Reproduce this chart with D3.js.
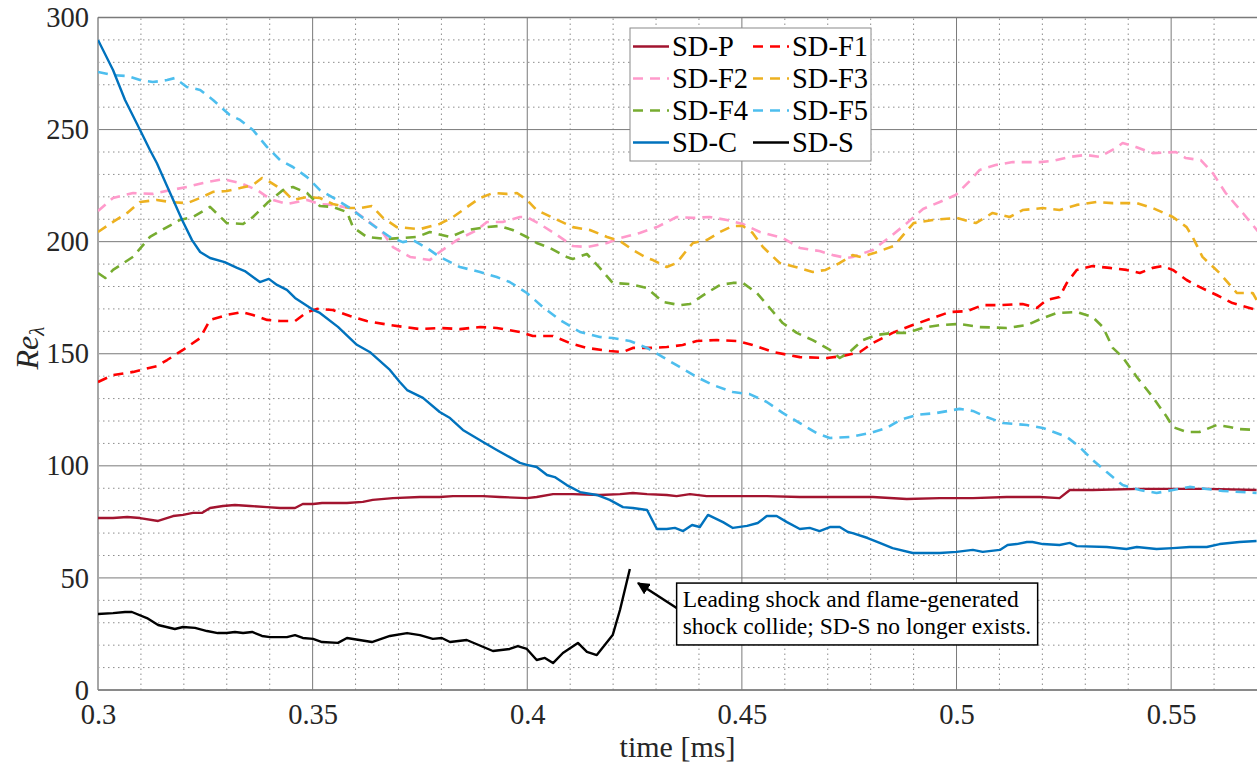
<!DOCTYPE html>
<html>
<head>
<meta charset="utf-8">
<script src="https://cdn.jsdelivr.net/npm/d3@7"></script>
<style>
  body { margin: 0; background: #fff; }
  svg text { font-family: "Liberation Serif", "DejaVu Serif", "Times New Roman", serif; }
</style>
</head>
<body>
<div id="chart-area"></div>
<script>
let width = 1257,
height = 765;

// Re_lambda over time
let sdP = [[0.300,76.7],[0.3035,76.7],[0.3068,77.2],[0.3098,76.7],[0.3140,75.4],[0.3175,77.6],[0.3198,78.1],[0.3221,79.0],[0.3242,79.0],[0.3261,81.2],[0.3291,82.1],[0.3319,82.5],[0.3354,82.1],[0.3394,81.6],[0.3424,81.2],[0.3459,81.2],[0.3477,83.0],[0.3501,83.0],[0.3522,83.4],[0.3580,83.4],[0.3617,83.9],[0.3640,84.8],[0.3687,85.6],[0.3750,86.1],[0.3796,86.1],[0.3827,86.5],[0.3897,86.5],[0.3936,86.1],[0.3999,85.6],[0.4022,86.1],[0.4060,87.4],[0.4106,87.4],[0.4169,87.0],[0.4216,87.4],[0.4246,87.9],[0.4279,87.4],[0.4325,87.0],[0.4348,86.5],[0.4379,87.4],[0.4418,86.5],[0.4479,86.5],[0.4558,86.5],[0.4635,86.1],[0.4751,86.1],[0.4805,86.1],[0.4884,85.2],[0.4961,85.6],[0.5038,85.6],[0.5117,86.1],[0.5194,86.1],[0.5240,85.6],[0.5264,89.2],[0.5317,89.2],[0.5427,89.7],[0.5504,89.7],[0.5583,89.7],[0.5699,89.2]];

let sdF1 = [[0.300,137.4],[0.3035,140.5],[0.3082,141.9],[0.3137,144.5],[0.3161,147.2],[0.3198,151.7],[0.3238,157.0],[0.3261,165.1],[0.3300,167.3],[0.3335,168.6],[0.3361,167.3],[0.3394,165.1],[0.3424,164.6],[0.3459,164.6],[0.3487,168.6],[0.3510,170.0],[0.3547,169.5],[0.3587,166.8],[0.3626,164.6],[0.3680,162.8],[0.3750,161.0],[0.3796,161.5],[0.3843,161.0],[0.3890,161.9],[0.3929,161.5],[0.3983,159.7],[0.4013,157.9],[0.4060,157.9],[0.4099,154.8],[0.4139,152.6],[0.4192,151.2],[0.4223,150.8],[0.4246,152.6],[0.4292,152.6],[0.4325,153.0],[0.4362,153.9],[0.4395,155.7],[0.4442,156.1],[0.4488,155.7],[0.4525,153.9],[0.4572,150.8],[0.4635,148.5],[0.4698,148.1],[0.4735,149.0],[0.4775,150.8],[0.4805,154.8],[0.4851,159.3],[0.4898,162.8],[0.4945,166.0],[0.4984,168.6],[0.5024,169.0],[0.5061,171.7],[0.5101,171.7],[0.5154,172.2],[0.5187,170.4],[0.5210,174.0],[0.5240,175.3],[0.5257,181.6],[0.5280,187.4],[0.5317,189.1],[0.5357,188.3],[0.5396,187.4],[0.5427,186.0],[0.5457,188.3],[0.5480,189.1],[0.5504,187.4],[0.5536,182.9],[0.5566,179.8],[0.5606,176.2],[0.5643,172.6],[0.5699,169.5]];

let sdF2 = [[0.300,213.7],[0.3035,219.5],[0.3082,221.7],[0.3128,221.3],[0.3168,223.0],[0.3208,224.4],[0.3245,226.2],[0.3291,227.9],[0.3331,226.2],[0.3371,223.0],[0.3401,219.0],[0.3440,216.8],[0.3487,218.6],[0.3517,216.8],[0.3547,216.4],[0.3587,215.0],[0.3626,209.7],[0.3664,203.9],[0.3687,197.6],[0.3727,193.2],[0.3773,191.8],[0.3796,195.4],[0.3836,200.7],[0.3883,205.2],[0.3906,208.8],[0.3943,208.8],[0.3983,211.0],[0.3999,211.0],[0.4029,207.9],[0.4069,203.0],[0.4106,198.1],[0.4139,197.6],[0.4186,199.4],[0.4216,201.6],[0.4262,203.9],[0.4302,206.5],[0.4348,211.0],[0.4386,210.6],[0.4425,211.0],[0.4465,209.7],[0.4502,207.9],[0.4542,204.3],[0.4595,201.6],[0.4635,197.2],[0.4681,195.8],[0.4712,194.0],[0.4744,192.7],[0.4758,193.2],[0.4805,196.3],[0.4845,202.1],[0.4882,207.9],[0.4922,214.6],[0.4961,217.7],[0.4998,220.8],[0.5033,227.5],[0.5054,232.0],[0.5091,234.2],[0.5131,235.5],[0.5194,235.5],[0.5224,236.0],[0.5264,237.8],[0.5301,238.7],[0.5334,237.8],[0.5371,241.8],[0.5387,244.0],[0.5418,242.2],[0.5457,239.5],[0.5511,240.0],[0.5534,237.3],[0.5569,236.4],[0.5597,230.6],[0.5627,221.7],[0.5667,212.8],[0.5713,202.1]];

let sdF3 = [[0.300,204.3],[0.3035,208.8],[0.3068,212.8],[0.3098,217.7],[0.3137,218.6],[0.3168,217.7],[0.3208,217.2],[0.3238,219.5],[0.3268,222.2],[0.3300,222.6],[0.3331,223.9],[0.3361,225.3],[0.3382,228.4],[0.3401,226.6],[0.3431,223.0],[0.3454,218.6],[0.3487,219.9],[0.3517,219.5],[0.3547,216.8],[0.3587,215.0],[0.3610,215.0],[0.3638,215.9],[0.3664,210.6],[0.3696,206.5],[0.3750,205.6],[0.3796,207.9],[0.3827,211.0],[0.3850,214.1],[0.3890,219.5],[0.3920,221.7],[0.3952,221.3],[0.3976,221.7],[0.3999,218.6],[0.4022,214.1],[0.4060,210.6],[0.4106,206.5],[0.4146,205.2],[0.4186,202.1],[0.4216,200.3],[0.4246,196.3],[0.4279,192.7],[0.4293,191.8],[0.4325,188.7],[0.4348,190.5],[0.4372,196.3],[0.4386,199.4],[0.4418,200.7],[0.4449,204.3],[0.4479,207.0],[0.4502,207.0],[0.4525,203.9],[0.4549,197.6],[0.4588,190.5],[0.4625,188.7],[0.4665,186.5],[0.4695,187.4],[0.4728,190.5],[0.4758,194.0],[0.4777,193.2],[0.4808,194.9],[0.4854,198.1],[0.4900,208.3],[0.4945,209.7],[0.5000,210.6],[0.5045,208.3],[0.5084,212.8],[0.5124,211.0],[0.5154,214.1],[0.5201,215.0],[0.5240,214.1],[0.5280,216.4],[0.5327,217.7],[0.5364,217.2],[0.5420,217.2],[0.5457,215.0],[0.5504,211.0],[0.5536,206.5],[0.5550,202.1],[0.5573,193.2],[0.5613,186.0],[0.5653,177.1],[0.5690,177.1],[0.5699,174.0]];

let sdF4 = [[0.300,186.0],[0.3017,183.8],[0.3035,187.4],[0.3082,193.3],[0.3121,202.1],[0.3161,206.5],[0.3191,209.7],[0.3221,211.0],[0.3261,215.5],[0.3300,208.3],[0.3338,207.9],[0.3361,211.0],[0.3394,217.2],[0.3431,223.0],[0.3454,224.4],[0.3487,221.7],[0.3517,215.9],[0.3547,215.5],[0.3580,213.2],[0.3594,206.5],[0.3626,202.1],[0.3673,201.2],[0.3703,201.6],[0.3743,202.1],[0.3773,204.3],[0.3820,202.1],[0.3859,205.2],[0.3906,206.5],[0.3936,207.0],[0.3966,205.2],[0.3999,202.1],[0.4022,199.4],[0.4053,197.2],[0.4092,193.2],[0.4106,192.3],[0.4139,194.5],[0.4169,188.3],[0.4199,181.6],[0.4239,181.1],[0.4279,179.3],[0.4316,173.1],[0.4355,171.7],[0.4379,172.2],[0.4418,177.1],[0.4449,180.7],[0.4479,181.6],[0.4502,181.6],[0.4535,177.1],[0.4565,170.4],[0.4595,163.7],[0.4628,159.3],[0.4665,156.1],[0.4705,151.7],[0.4728,148.1],[0.4751,150.8],[0.4782,156.1],[0.4814,158.4],[0.4851,159.3],[0.4884,159.3],[0.4921,161.5],[0.4961,162.8],[0.5008,163.3],[0.5054,161.9],[0.5117,161.5],[0.5164,162.8],[0.5201,165.9],[0.5234,168.2],[0.5280,168.6],[0.5317,166.4],[0.5341,161.9],[0.5364,152.6],[0.5387,148.5],[0.5420,139.6],[0.5457,130.7],[0.5490,121.8],[0.5504,117.3],[0.5536,115.1],[0.5566,115.1],[0.5606,118.2],[0.5636,117.3],[0.5659,116.4],[0.5699,116.0]];

let sdF5 = [[0.300,275.7],[0.3035,274.3],[0.3068,273.9],[0.3098,272.1],[0.3128,271.2],[0.3161,272.1],[0.3179,273.0],[0.3207,269.0],[0.3238,267.7],[0.3268,263.2],[0.3307,256.5],[0.3331,254.3],[0.3361,249.8],[0.3394,242.2],[0.3424,236.4],[0.3454,233.3],[0.3487,228.8],[0.3517,223.0],[0.3557,218.6],[0.3587,215.0],[0.3617,210.6],[0.3650,206.1],[0.3680,202.1],[0.3710,199.8],[0.3734,200.7],[0.3766,197.2],[0.3796,193.2],[0.3843,188.7],[0.3890,186.5],[0.3929,184.2],[0.3959,182.0],[0.3999,177.1],[0.4036,170.9],[0.4076,165.1],[0.4123,159.7],[0.4169,157.5],[0.4199,157.0],[0.4239,155.7],[0.4279,152.6],[0.4316,148.5],[0.4355,144.1],[0.4395,139.6],[0.4432,136.1],[0.4479,132.9],[0.4518,132.0],[0.4558,128.5],[0.4595,123.6],[0.4635,119.1],[0.4674,114.6],[0.4705,112.4],[0.4751,112.9],[0.4798,114.6],[0.4837,116.9],[0.4868,120.4],[0.4907,122.7],[0.4954,123.6],[0.5007,125.4],[0.5038,124.5],[0.5070,121.8],[0.5108,119.1],[0.5164,118.2],[0.5201,116.9],[0.5257,112.9],[0.5287,108.4],[0.5317,102.6],[0.5350,97.2],[0.5387,91.4],[0.5427,89.2],[0.5466,87.9],[0.5504,89.2],[0.5543,90.6],[0.5583,89.7],[0.5620,88.8],[0.5699,87.9]];

let sdC = [[0.300,290.0],[0.3035,276.6],[0.3063,263.2],[0.3098,249.8],[0.3121,240.9],[0.3137,235.1],[0.3168,221.7],[0.3196,209.7],[0.3219,200.7],[0.3238,195.4],[0.3261,192.7],[0.3295,190.9],[0.3324,188.3],[0.3342,186.9],[0.3377,182.0],[0.3398,183.4],[0.3417,180.7],[0.3440,178.5],[0.3459,174.9],[0.3501,169.6],[0.3517,168.2],[0.3559,162.0],[0.3603,154.0],[0.3633,150.8],[0.3680,142.8],[0.3703,137.4],[0.3720,133.8],[0.3757,130.3],[0.3796,124.0],[0.3820,121.3],[0.3850,116.0],[0.3897,110.6],[0.3929,107.1],[0.3959,103.9],[0.3983,101.3],[0.3999,100.4],[0.4022,99.5],[0.4046,95.9],[0.4064,95.0],[0.4092,91.4],[0.4123,88.3],[0.4162,87.0],[0.4192,84.8],[0.4223,81.6],[0.4246,81.2],[0.4279,80.3],[0.4302,71.8],[0.4325,71.8],[0.4344,72.3],[0.4363,70.9],[0.4384,73.6],[0.4402,72.7],[0.4421,78.1],[0.4456,74.9],[0.4479,72.3],[0.4512,73.2],[0.4537,74.5],[0.4558,77.6],[0.4581,77.6],[0.4605,74.9],[0.4635,71.8],[0.4658,72.3],[0.4681,70.9],[0.4705,72.7],[0.4728,72.7],[0.4747,70.5],[0.4758,70.0],[0.4793,67.8],[0.4821,65.6],[0.4851,63.3],[0.4898,61.1],[0.4961,61.1],[0.5000,61.6],[0.5038,62.5],[0.5061,61.6],[0.5101,62.5],[0.5119,64.7],[0.5140,65.1],[0.5164,66.0],[0.5177,66.0],[0.5201,65.1],[0.5240,64.7],[0.5264,65.6],[0.5280,64.2],[0.5350,63.8],[0.5396,62.9],[0.5420,63.8],[0.5466,62.9],[0.5504,63.3],[0.5543,63.8],[0.5583,63.8],[0.5613,65.1],[0.5659,66.0],[0.5699,66.5]];

let sdS = [[0.300,33.9],[0.3035,34.3],[0.3063,34.8],[0.3079,34.8],[0.3114,32.1],[0.3140,29.0],[0.3179,27.2],[0.3198,28.1],[0.3226,27.7],[0.3254,26.3],[0.3279,25.4],[0.3300,25.4],[0.3319,25.9],[0.3338,25.4],[0.3359,25.9],[0.3382,24.1],[0.3401,23.6],[0.3440,23.6],[0.3459,24.5],[0.3477,23.2],[0.3501,22.8],[0.3522,21.4],[0.3559,21.0],[0.3580,23.2],[0.3638,21.4],[0.3680,24.1],[0.3720,25.4],[0.3750,24.5],[0.3780,22.8],[0.3801,23.2],[0.3820,21.4],[0.3859,22.3],[0.3920,17.4],[0.3959,18.3],[0.3978,19.6],[0.3999,18.3],[0.4022,13.4],[0.4041,14.3],[0.4060,12.0],[0.4083,16.5],[0.4118,21.0],[0.4139,17.0],[0.4162,15.6],[0.4199,24.5],[0.4216,35.7],[0.4239,54.0]];

let names = ["SD-P", "SD-F1", "SD-F2", "SD-F3", "SD-F4", "SD-F5", "SD-C", "SD-S"];
let colors = ["#A2142F", "#FF0000", "#FF9ACB", "#EDB120", "#77AC30", "#4DBEEE", "#0072BD", "#000000"];
let dashed = [false, true, true, true, true, true, false, false];
let xTicks = [0.3, 0.35, 0.4, 0.45, 0.5, 0.55];
let yTicks = [0, 50, 100, 150, 200, 250, 300];
let noteLines = ["Leading shock and flame-generated", "shock collide; SD-S no longer exists."];

let series = [sdP, sdF1, sdF2, sdF3, sdF4, sdF5, sdC, sdS];

let serif = "'Liberation Serif', 'DejaVu Serif', 'Times New Roman', serif";
let margin = {left: 98, top: 17.5, right: 0, bottom: 75};

let svg = d3.select("#chart-area").append("svg")
	.attr("width", width)
	.attr("height", height)
	.attr("font-family", serif);

let x = d3.scaleLinear()
	.domain([0.3, 0.57])
	.range([margin.left, width - margin.right]);
let y = d3.scaleLinear()
	.domain([0, 300])
	.range([height - margin.bottom, margin.top]);

// minor grid (dotted)
let xMinor = d3.range(31, 57).map(d => d / 100).filter(d => !xTicks.some(t => Math.abs(t - d) < 1e-6));
let yMinor = d3.range(0, 301, 10).filter(d => d % 50 != 0);

svg.append("g").selectAll("line")
	.data(xMinor)
	.enter().append("line")
	.attr("x1", d => x(d)).attr("x2", d => x(d))
	.attr("y1", y(0)).attr("y2", y(300))
	.style("stroke", "#8c8c8c")
	.style("stroke-width", 1)
	.style("stroke-dasharray", "1.5,3.5");

svg.append("g").selectAll("line")
	.data(yMinor)
	.enter().append("line")
	.attr("x1", x(0.3)).attr("x2", width)
	.attr("y1", d => y(d)).attr("y2", d => y(d))
	.style("stroke", "#8c8c8c")
	.style("stroke-width", 1)
	.style("stroke-dasharray", "1.5,3.5");

// major grid
svg.append("g").selectAll("line")
	.data(xTicks)
	.enter().append("line")
	.attr("x1", d => x(d)).attr("x2", d => x(d))
	.attr("y1", y(0)).attr("y2", y(300))
	.style("stroke", "#7a7a7a")
	.style("stroke-width", 1);

svg.append("g").selectAll("line")
	.data(yTicks)
	.enter().append("line")
	.attr("x1", x(0.3)).attr("x2", width)
	.attr("y1", d => y(d)).attr("y2", d => y(d))
	.style("stroke", "#7a7a7a")
	.style("stroke-width", 1);

// axes
let xAxis = d3.axisBottom(x)
	.tickValues(xTicks)
	.tickSize(0)
	.tickPadding(14)
	.tickFormat(d => String(+d.toFixed(2)));
let yAxis = d3.axisLeft(y)
	.tickValues(yTicks)
	.tickSize(0)
	.tickPadding(9);

let gx = svg.append("g")
	.attr("transform", "translate(0," + y(0) + ")")
	.call(xAxis);
let gy = svg.append("g")
	.attr("transform", "translate(" + x(0.3) + ",0)")
	.call(yAxis);
[gx, gy].forEach(g => {
	g.attr("font-family", serif).attr("font-size", 28.5);
	g.select(".domain").remove();
	g.selectAll("text")
		.style("font-family", serif)
		.style("font-size", "28.5px")
		.style("fill", "#262626");
});

// box edges
svg.append("line")
	.attr("x1", x(0.3)).attr("x2", x(0.3))
	.attr("y1", y(0)).attr("y2", y(300))
	.style("stroke", "#a6a6a6").style("stroke-width", 2);
svg.append("line")
	.attr("x1", x(0.3)).attr("x2", width)
	.attr("y1", y(0)).attr("y2", y(0))
	.style("stroke", "#7a7a7a").style("stroke-width", 1.5);
svg.append("line")
	.attr("x1", x(0.3)).attr("x2", width)
	.attr("y1", y(300)).attr("y2", y(300))
	.style("stroke", "#7a7a7a").style("stroke-width", 1.5);

// lines
svg.append("clipPath").attr("id", "clip")
	.append("rect")
	.attr("x", x(0.3)).attr("y", y(300))
	.attr("width", width - x(0.3)).attr("height", y(0) - y(300));

let line = d3.line()
	.x(d => x(d[0]))
	.y(d => y(d[1]));

svg.append("g").attr("clip-path", "url(#clip)")
	.selectAll("path")
	.data(series)
	.enter().append("path")
	.attr("d", line)
	.style("fill", "none")
	.style("stroke", (d, i) => colors[i])
	.style("stroke-width", (d, i) => dashed[i] ? 2.6 : 2.4)
	.style("stroke-dasharray", (d, i) => dashed[i] ? "10,7" : null)
	.style("stroke-linejoin", "round");

// legend
let legend = svg.append("g");
legend.append("rect")
	.attr("x", 630).attr("y", 28)
	.attr("width", 241).attr("height", 133)
	.style("fill", "white")
	.style("stroke", "#8a8a8a")
	.style("stroke-width", 1);

let items = legend.selectAll(".item")
	.data(names)
	.enter().append("g")
	.attr("class", "item")
	.attr("transform", (d, i) => "translate(" + (i % 2 == 0 ? 633 : 753) + "," + (46.5 + Math.floor(i / 2) * 32) + ")");
items.append("line")
	.attr("x1", 0).attr("x2", 36)
	.style("stroke", (d, i) => colors[i])
	.style("stroke-width", 2.6)
	.style("stroke-dasharray", (d, i) => dashed[i] ? "10,7" : null);
items.append("text")
	.attr("x", 39)
	.attr("dy", "0.35em")
	.style("font-family", serif)
	.style("font-size", "28.5px")
	.style("fill", "#000")
	.text(d => d);

// annotation
let tip = [0.4258, 47.7], tail = [0.4348, 36.6];
svg.append("defs").append("marker")
	.attr("id", "arrow")
	.attr("viewBox", "0 0 10 10")
	.attr("refX", 9).attr("refY", 5)
	.attr("markerWidth", 5).attr("markerHeight", 5)
	.attr("orient", "auto")
	.append("path")
	.attr("d", "M0,0 L10,5 L0,10 z")
	.style("fill", "#000");
svg.append("line")
	.attr("x1", x(tail[0])).attr("y1", y(tail[1]))
	.attr("x2", x(tip[0])).attr("y2", y(tip[1]))
	.style("stroke", "#000")
	.style("stroke-width", 2.5)
	.attr("marker-end", "url(#arrow)");

let bx = x(0.4348), by = y(47.7);
svg.append("rect")
	.attr("x", bx).attr("y", by)
	.attr("width", x(0.5189) - bx).attr("height", y(20.1) - by)
	.style("fill", "white")
	.style("stroke", "#000")
	.style("stroke-width", 1.5);
svg.append("g").selectAll("text")
	.data(noteLines)
	.enter().append("text")
	.attr("x", bx + 6)
	.attr("y", (d, i) => by + 24 + i * 27)
	.style("font-family", serif)
	.style("font-size", "23.5px")
	.style("fill", "#000")
	.text(d => d);

// axis labels
svg.append("text")
	.attr("x", (x(0.3) + width) / 2)
	.attr("y", 757)
	.attr("text-anchor", "middle")
	.style("font-family", serif)
	.style("font-size", "30px")
	.style("fill", "#262626")
	.text("time [ms]");

let yl = svg.append("text")
	.attr("transform", "translate(38,348) rotate(-90)")
	.attr("text-anchor", "middle")
	.style("font-family", serif)
	.style("font-size", "32px")
	.style("font-style", "italic")
	.style("fill", "#262626");
yl.append("tspan").text("Re");
yl.append("tspan").attr("dy", 6).style("font-size", "21px").text("λ");
</script>
</body>
</html>
